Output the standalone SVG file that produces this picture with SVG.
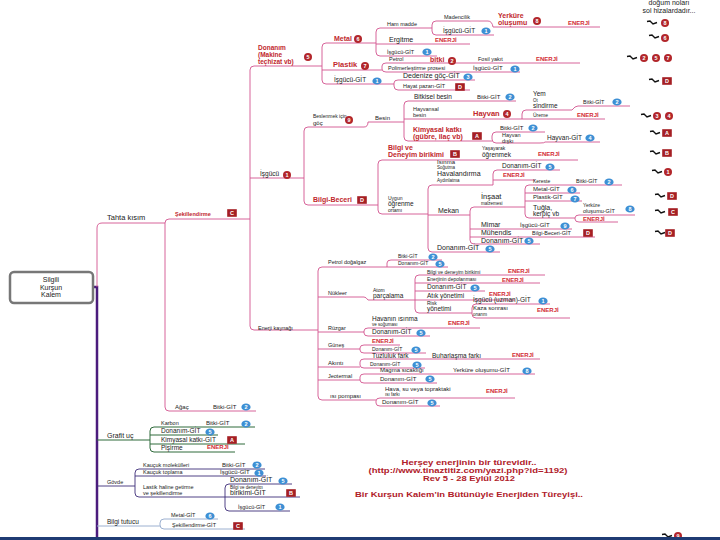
<svg xmlns="http://www.w3.org/2000/svg" width="720" height="540" viewBox="0 0 720 540">
<style>
text{font-family:"Liberation Sans",Arial,sans-serif;fill:#222}
.f45{font-size:4.5px}.f5{font-size:5px}.f55{font-size:5.5px}.f6{font-size:6px}.f65{font-size:6.5px}.f7{font-size:7px}.f75{font-size:7.5px}.f8{font-size:8px}
.r{fill:#c1272d;font-weight:bold}
.e{fill:#d22b34;font-weight:bold;font-size:6px}
.bt{fill:#fff;font-size:5.5px;font-weight:bold;text-anchor:middle}
.pk{fill:none;stroke:#d2548e;stroke-width:0.9}
.gn{fill:none;stroke:#2e6a3a;stroke-width:1}
.nv{fill:none;stroke:#3d2d78;stroke-width:0.9}
.lb{fill:none;stroke:#9cb0d0;stroke-width:1}
.ft{fill:#b0202a;font-weight:bold;font-size:7.3px;text-anchor:middle}
</style>
<defs>
<ellipse id="bb" rx="4.6" ry="3.6" fill="#3d8fd4"/>
<circle id="rb" r="4" fill="#b2262b"/>
<rect id="rs" x="-4.8" y="-3.8" width="9.6" height="7.6" fill="#a51f24"/>
<path id="sq" d="M-5 -1.5 L-2 -2 L1 1 L5 -0.5" fill="none" stroke="#111" stroke-width="1.4"/>
</defs>
<rect width="720" height="540" fill="#fff"/>
<g id="connectors">
<path d="M93 287 H97 V540" fill="none" stroke="#4b1c7d" stroke-width="2.5"/>
<path class="pk" stroke-width="1.5" d="M97 287 V228 Q97 223 102 223 H165"/>
<path class="pk" stroke-width="1.3" d="M169 219 Q165 219 165 223 V407 Q165 411 169 411 H256 M169 219 H250"/>
<path class="pk" stroke-width="1.2" d="M254 66 Q250 66 250 70 V326 Q250 330 254 330 H318 M254 66 H322 M250 178 H304"/>
<path class="pk" d="M326 43 Q322 43 322 47 V80 Q322 84 326 84 H394 M326 43 H376 M322 70 H382"/>
<path class="pk" d="M380 28 Q376 28 376 32 V52 Q376 56 380 56 H437 M380 28 H432 M376 44 H470"/>
<path class="pk" d="M436 21 Q432 21 432 25 V31 Q432 35 436 35 H494 M436 21 H488 Q492 21 493 27 H600"/>
<path class="pk" d="M386 63 Q382 63 382 66 V69 Q382 72 386 72 H520 M386 63 H580"/>
<path class="pk" d="M398 80 Q394 80 394 83 V86 Q394 90 398 90 H470 M398 80 H475"/>
<path class="pk" d="M308 127 Q304 127 304 131 V201 Q304 205 308 205 H378 M308 127 H364 Q368 127 368 122 H404"/>
<path class="pk" d="M408 101 Q404 101 404 105 V137 Q404 141 408 141 H492 M408 101 H516 M404 119 H605"/>
<path class="pk" d="M572 110 H526 Q522 110 522 114 V119 M572 110 Q575 106 578 106 H630"/>
<path class="pk" d="M496 132 Q492 132 492 136 V139 Q492 143 496 143 H540 Q545 143 545 142 H600 M496 132 H545"/>
<path class="pk" d="M382 160 Q378 160 378 164 V210 Q378 214 382 214 H428 M382 160 H578"/>
<path class="pk" d="M432 185 Q428 185 428 189 V248 Q428 252 432 252 H500 M432 185 H493 M428 215 H470"/>
<path class="pk" d="M497 170 Q493 170 493 174 V185 M497 170 H560 M493 180 H535"/>
<path class="pk" d="M474 207 Q470 207 470 211 V240 Q470 244 474 244 H540 M474 207 H525 M470 229 H572 M470 237 H595"/>
<path class="pk" d="M529 185 Q525 185 525 189 V214 Q525 218 529 218 H575 M529 185 H622 M525 193 H580 M525 201 H582"/>
<path class="pk" d="M579 215 Q575 215 575 218 V219 Q575 222 579 222 H618 M579 215 H635"/>
<path class="pk" stroke-width="1.2" d="M322 267 Q318 267 318 271 V396 Q318 400 322 400 H376 M322 267 H387 M318 297 H364 Q366 297 368 300 H415 M318 332 H364 M318 349 H360 M318 367 H360 M318 380 H360"/>
<path class="pk" d="M391 260 Q387 260 387 263 V267 H448 M391 260 H442"/>
<path class="pk" d="M419 275 Q415 275 415 279 V309 Q415 313 419 313 H472 M419 275 H545 M415 283 H540 M415 291 H485 M415 300 H515"/>
<path class="pk" d="M476 304 Q472 304 472 308 V314 Q472 318 476 318 H570 M476 304 H550"/>
<path class="pk" d="M368 328 Q364 328 364 331 V333 Q364 336 368 336 H430 M368 328 H480"/>
<path class="pk" d="M364 345 Q360 345 360 348 V350 Q360 353 364 353 H426 M364 345 H400"/>
<path class="pk" d="M364 359 Q360 359 360 362 V365 Q360 368 364 368 H425 M364 359 H540"/>
<path class="pk" d="M364 374 Q360 374 360 377 V380 Q360 383 364 383 H437 M364 374 H535"/>
<path class="pk" d="M380 398 Q376 398 376 401 V403 Q376 406 380 406 H440 M380 398 H515"/>
<path class="gn" stroke-width="2" d="M97 440 H150"/>
<path class="gn" stroke-width="1.5" d="M154 427 Q150 427 150 431 V448 Q150 452 154 452 H235 M154 427 H255 M150 435 H218 M150 444 H245"/>
<path class="nv" stroke-width="1.5" d="M97 486 H135"/>
<path class="nv" d="M139 469 Q135 469 135 473 V493 Q135 497 139 497 H225 M139 469 H265 M135 476 H266"/>
<path class="nv" d="M229 484 Q225 484 225 488 V507 Q225 511 229 511 H290 M229 484 H292 M225 497 H300"/>
<path class="lb" stroke-width="1.5" d="M97 526 H160"/>
<path class="lb" d="M164 519 Q160 519 160 523 V525 Q160 529 164 529 H245 M164 519 H218"/>
</g>
<g id="root"><rect x="10" y="272" width="83" height="31" rx="4" fill="#fff" stroke="#777" stroke-width="2.5"/>
<text class="f7" x="51" y="282" text-anchor="middle">Silgili</text><text class="f7" x="51" y="289.5" text-anchor="middle">Kurşun</text><text class="f7" x="51" y="297" text-anchor="middle">Kalem</text></g>
<g id="n-tahta"><text class="f75" x="107" y="220">Tahta kısım</text></g>
<g id="n-sekil"><text class="f55 r" x="175" y="216">Şekillendirme</text><use href="#rs" x="232" y="213"/><text class="bt" x="232" y="215">C</text></g>
<g id="n-agac"><text class="f6" x="175" y="409">Ağaç</text><text class="f6" x="213" y="409">Bitki-GİT</text><use href="#bb" x="246" y="407"/><text class="bt" x="246" y="409">2</text></g>
<g id="n-donanim"><text class="f65 r" x="258" y="50">Donanım</text><text class="f65 r" x="258" y="57">(Makine</text><text class="f65 r" x="258" y="64">teçhizat vb)</text><use href="#rb" x="308" y="57"/><text class="bt" x="308" y="59">5</text></g>
<g id="n-metal"><text class="f7 r" x="334" y="41">Metal</text><use href="#rb" x="358" y="39"/><text class="bt" x="358" y="41">6</text></g>
<g id="n-hammadde"><text class="f55" x="387" y="26">Ham madde</text></g>
<g id="n-madencilik"><text class="f55" x="444" y="19">Madencilik</text></g>
<g id="n-isgucu-m1"><text class="f65" x="443" y="33">İşgücü-GİT</text><use href="#bb" x="486" y="31"/><text class="bt" x="486" y="33">1</text></g>
<g id="n-yerkure"><text class="f7 r" x="498" y="18">Yerküre</text><text class="f7 r" x="498" y="25">oluşumu</text><use href="#rb" x="537" y="21"/><text class="bt" x="537" y="23">8</text><text class="e" x="568" y="25">ENERJİ</text></g>
<g id="n-ergitme"><text class="f7" x="389" y="42">Ergitme</text><text class="e" x="435" y="42">ENERJİ</text></g>
<g id="n-isgucu-m2"><text class="f55" x="387" y="54">İşgücü-GİT</text><use href="#bb" x="427" y="52"/><text class="bt" x="427" y="54">1</text></g>
<g id="n-plastik"><text class="f75 r" x="333" y="67">Plastik</text><use href="#rb" x="365" y="66"/><text class="bt" x="365" y="68">7</text></g>
<g id="n-petrol"><text class="f55" x="389" y="61">Petrol</text><text class="f7 r" x="430" y="62">bitki</text><use href="#rb" x="452" y="61"/><text class="bt" x="452" y="63">2</text><text class="f55" x="478" y="61">Fosil yakıt</text><text class="e" x="536" y="61">ENERJİ</text></g>
<g id="n-polimer"><text class="f55" x="388" y="70">Polimerleştirme prosesi</text><text class="f6" x="473" y="70">İşgücü-GİT</text><use href="#bb" x="515" y="69"/><text class="bt" x="515" y="71">1</text></g>
<g id="n-isgucu-d"><text class="f65" x="334" y="82">İşgücü-GİT</text><use href="#bb" x="377" y="81"/><text class="bt" x="377" y="83">1</text></g>
<g id="n-dedenize"><text class="f7" x="403" y="78">Dedenize göç-GİT</text><use href="#bb" x="468" y="77"/><text class="bt" x="468" y="79">3</text></g>
<g id="n-hayat"><text class="f55" x="403" y="88">Hayat pazarı-GİT</text><use href="#rs" x="460" y="87"/><text class="bt" x="460" y="89">D</text></g>
<g id="n-isgucu"><text class="f65" x="260" y="176">İşgücü</text><use href="#rb" x="287" y="175"/><text class="bt" x="287" y="177">1</text></g>
<g id="n-beslenme"><text class="f5" x="313" y="118">Beslenmek için</text><text class="f6" x="313" y="125">göç</text><use href="#rb" x="349" y="120"/><text class="bt" x="349" y="122">9</text></g>
<g id="n-besin"><text class="f6" x="375" y="120">Besin</text></g>
<g id="n-bitkisel"><text class="f65" x="414" y="99">Bitkisel besin</text><text class="f6" x="477" y="99">Bitki-GİT</text><use href="#bb" x="510" y="97"/><text class="bt" x="510" y="99">2</text></g>
<g id="n-hayvansal"><text class="f55" x="413" y="111">Hayvansal</text><text class="f55" x="413" y="117">besin</text><text class="f75 r" x="473" y="116">Hayvan</text><use href="#rb" x="507" y="114"/><text class="bt" x="507" y="116">4</text></g>
<g id="n-yem"><text class="f65" x="533" y="96">Yem</text><text class="f45" x="533" y="102">Ot</text><text class="f65" x="533" y="108">sindirme</text><text class="f55" x="583" y="104">Bitki-GİT</text><use href="#bb" x="617" y="102"/><text class="bt" x="617" y="104">2</text></g>
<g id="n-ureme"><text class="f5" x="533" y="117">Üreme</text><text class="e" x="577" y="117">ENERJİ</text></g>
<g id="n-kimyasal"><text class="f7 r" x="413" y="132">Kimyasal katkı</text><text class="f7 r" x="413" y="139">(gübre, ilaç vb)</text><use href="#rs" x="477" y="136"/><text class="bt" x="477" y="138">A</text></g>
<g id="n-bitki-k"><text class="f6" x="500" y="129.5">Bitki-GİT</text><use href="#bb" x="533" y="128"/><text class="bt" x="533" y="130">2</text></g>
<g id="n-diski"><text class="f55" x="502" y="137">Hayvan</text><text class="f55" x="502" y="142.5">dışkı</text><text class="f65" x="547" y="140">Hayvan-GİT</text><use href="#bb" x="590" y="138"/><text class="bt" x="590" y="140">4</text></g>
<g id="n-bilgibeceri"><text class="f7 r" x="313" y="202">Bilgi-Beceri</text><use href="#rs" x="362" y="200"/><text class="bt" x="362" y="202">D</text></g>
<g id="n-bilgideneyim"><text class="f7 r" x="388" y="150">Bilgi ve</text><text class="f7 r" x="388" y="157">Deneyim birikimi</text><use href="#rs" x="455" y="154"/><text class="bt" x="455" y="156">B</text></g>
<g id="n-yasayarak"><text class="f5" x="482" y="150">Yaşayarak</text><text class="f65" x="482" y="157">öğrenmek</text><text class="f7 e" x="538" y="156">ENERJİ</text></g>
<g id="n-uygun"><text class="f5" x="388" y="200">Uygun</text><text class="f65" x="388" y="206">öğrenme</text><text class="f5" x="388" y="212">ortamı</text></g>
<g id="n-isinma"><text class="f6" x="437" y="164">Isınma</text><text class="f45" x="437" y="169">Soğutma</text><text class="f7" x="437" y="176">Havalandırma</text><text class="f45" x="437" y="182">Aydınlatma</text></g>
<g id="n-donanim-i"><text class="f65" x="502" y="168">Donanım-GİT</text><use href="#bb" x="550" y="167"/><text class="bt" x="550" y="169">5</text></g>
<g id="n-enerji-i"><text class="f7 e" x="503" y="177">ENERJİ</text></g>
<g id="n-mekan"><text class="f7" x="438" y="213">Mekan</text></g>
<g id="n-insaat"><text class="f75" x="481" y="199">İnşaat</text><text class="f45" x="481" y="205">malzemesi</text></g>
<g id="n-kereste"><text class="f5" x="533" y="183">Kereste</text><text class="f55" x="576" y="183">Bitki-GİT</text><use href="#bb" x="609" y="182"/><text class="bt" x="609" y="184">2</text></g>
<g id="n-metalgit"><text class="f6" x="533" y="191">Metal-GİT</text><use href="#bb" x="572" y="190"/><text class="bt" x="572" y="192">6</text></g>
<g id="n-plastikgit"><text class="f6" x="533" y="199">Plastik-GİT</text><use href="#bb" x="575" y="199"/><text class="bt" x="575" y="201">7</text></g>
<g id="n-tugla"><text class="f7" x="533" y="210">Tuğla,</text><text class="f65" x="533" y="216">kerpiç vb</text></g>
<g id="n-yerkure2"><text class="f5" x="583" y="207">Yerküre</text><text class="f55" x="583" y="213">oluşumu-GİT</text><use href="#bb" x="630" y="209"/><text class="bt" x="630" y="211">8</text></g>
<g id="n-enerji-t"><text class="f7 e" x="583" y="220.5">ENERJİ</text></g>
<g id="n-mimar"><text class="f7" x="481" y="227">Mimar</text><text class="f6" x="520" y="227">İşgücü-GİT</text><use href="#bb" x="565" y="226"/><text class="bt" x="565" y="228">9</text></g>
<g id="n-muhendis"><text class="f7" x="481" y="235">Mühendis</text><text class="f55" x="532" y="235">Bilgi-Beceri-GİT</text><use href="#rs" x="588" y="233"/><text class="bt" x="588" y="235">D</text></g>
<g id="n-donanim-m"><text class="f7" x="481" y="242.5">Donanım-GİT</text><use href="#bb" x="529" y="241"/><text class="bt" x="529" y="243">5</text></g>
<g id="n-donanim-u"><text class="f7" x="437" y="250">Donanım-GİT</text><use href="#bb" x="490" y="249"/><text class="bt" x="490" y="251">5</text></g>
<g id="n-enerjikaynak"><text class="f55" x="258" y="330">Enerji kaynağı</text></g>
<g id="n-petroldogal"><text class="f55" x="328" y="264">Petrol doğalgaz</text></g>
<g id="n-bitki-p"><text class="f5" x="398" y="258">Bitki-GİT</text><use href="#bb" x="433" y="257"/><text class="bt" x="433" y="259">2</text></g>
<g id="n-donanim-p"><text class="f5" x="398" y="265">Donanım-GİT</text><use href="#bb" x="440" y="264"/><text class="bt" x="440" y="266">5</text></g>
<g id="n-nukleer"><text class="f55" x="328" y="295">Nükleer</text></g>
<g id="n-atom"><text class="f5" x="373" y="292">Atom</text><text class="f65" x="373" y="298">parçalama</text></g>
<g id="n-bilgi-n"><text class="f5" x="427" y="273.5">Bilgi ve deneyim birikimi</text><text class="e" x="508" y="273">ENERJİ</text></g>
<g id="n-depolama"><text class="f5" x="427" y="281">Enerjinin depolanması</text><text class="f75 e" x="502" y="281.5">ENERJİ</text></g>
<g id="n-donanim-n"><text class="f65" x="427" y="289">Donanım-GİT</text><use href="#bb" x="475" y="288"/><text class="bt" x="475" y="290">5</text></g>
<g id="n-atik"><text class="f65" x="427" y="298">Atık yönetimi</text><text class="e" x="489" y="296">ENERJİ</text></g>
<g id="n-risk"><text class="f5" x="427" y="305">Risk</text><text class="f65" x="427" y="311">yönetimi</text></g>
<g id="n-uzman"><text class="f65" x="473" y="302">İşgücü (uzman)-GİT</text><use href="#bb" x="543" y="301"/><text class="bt" x="543" y="303">1</text></g>
<g id="n-kaza"><text class="f6" x="473" y="310">Kaza sonrası</text><text class="f45" x="473" y="316">onarım</text><text class="e" x="537" y="312">ENERJİ</text></g>
<g id="n-ruzgar"><text class="f55" x="328" y="330">Rüzgar</text></g>
<g id="n-havanin"><text class="f65" x="372" y="321">Havanın ısınma</text><text class="f45" x="372" y="326">ve soğuması</text><text class="e" x="448" y="325">ENERJİ</text></g>
<g id="n-donanim-r"><text class="f65" x="372" y="334">Donanım-GİT</text><use href="#bb" x="421" y="333"/><text class="bt" x="421" y="335">5</text></g>
<g id="n-gunes"><text class="f55" x="328" y="347">Güneş</text></g>
<g id="n-enerji-g"><text class="e" x="372" y="343">ENERJİ</text></g>
<g id="n-donanim-g"><text class="f5" x="372" y="351">Donanım-GİT</text><use href="#bb" x="416" y="350"/><text class="bt" x="416" y="352">5</text></g>
<g id="n-akinti"><text class="f6" x="328" y="365">Akıntı</text></g>
<g id="n-tuzluluk"><text class="f65" x="372" y="357.5">Tuzluluk fark</text><text class="f65" x="432" y="357.5">Buharlaşma farkı</text><text class="e" x="512" y="357">ENERJİ</text></g>
<g id="n-donanim-a"><text class="f5" x="370" y="366">Donanım-GİT</text><use href="#bb" x="417" y="365"/><text class="bt" x="417" y="367">5</text></g>
<g id="n-jeotermal"><text class="f55" x="328" y="378">Jeotermal</text></g>
<g id="n-magma"><text class="f6" x="380" y="372">Magma sıcaklığı</text><text class="f6" x="453" y="372">Yerküre oluşumu-GİT</text><use href="#bb" x="527" y="371"/><text class="bt" x="527" y="373">8</text></g>
<g id="n-donanim-j"><text class="f6" x="380" y="381">Donanım-GİT</text><use href="#bb" x="430" y="379"/><text class="bt" x="430" y="381">5</text></g>
<g id="n-isipompasi"><text class="f6" x="330" y="398">ısı pompası</text></g>
<g id="n-hava"><text class="f6" x="385" y="391">Hava, su veya topraktaki</text><text class="f45" x="385" y="396">ısı farkı</text><text class="e" x="486" y="393">ENERJİ</text></g>
<g id="n-donanim-h"><text class="f6" x="382" y="404">Donanım-GİT</text><use href="#bb" x="432" y="403"/><text class="bt" x="432" y="405">5</text></g>
<g id="n-grafit"><text class="f7" x="107" y="438">Grafit uç</text></g>
<g id="n-karbon"><text class="f55" x="161" y="425">Karbon</text><text class="f6" x="206" y="425">Bitki-GİT</text><use href="#bb" x="246" y="424"/><text class="bt" x="246" y="426">2</text></g>
<g id="n-donanim-gr"><text class="f65" x="161" y="433">Donanım-GİT</text><use href="#bb" x="210" y="432"/><text class="bt" x="210" y="434">5</text></g>
<g id="n-kimyasal-gr"><text class="f65" x="161" y="442">Kimyasal katkı-GİT</text><use href="#rs" x="232" y="440"/><text class="bt" x="232" y="442">A</text></g>
<g id="n-pisirme"><text class="f65" x="161" y="450">Pişirme</text><text class="e" x="207" y="449">ENERJİ</text></g>
<g id="n-govde"><text class="f55" x="107" y="484">Gövde</text></g>
<g id="n-kaucuk1"><text class="f55" x="143" y="467">Kauçuk molekülleri</text><text class="f6" x="222" y="467">Bitki-GİT</text><use href="#bb" x="257" y="465"/><text class="bt" x="257" y="467">2</text></g>
<g id="n-kaucuk2"><text class="f55" x="143" y="474">Kauçuk toplama</text><text class="f6" x="220" y="474">İşgücü-GİT</text><use href="#bb" x="259" y="473"/><text class="bt" x="259" y="475">1</text></g>
<g id="n-lastik"><text class="f55" x="143" y="489">Lastik haline getirme</text><text class="f55" x="143" y="495">ve şekillendirme</text></g>
<g id="n-donanim-gv"><text class="f7" x="230" y="482">Donanım-GİT</text><use href="#bb" x="283" y="481"/><text class="bt" x="283" y="483">5</text></g>
<g id="n-bilgi-gv"><text class="f45" x="230" y="489">Bilgi ve deneyim</text><text class="f7" x="230" y="495">birikimi-GİT</text><use href="#rs" x="291" y="493"/><text class="bt" x="291" y="495">B</text></g>
<g id="n-isgucu-gv"><text class="f55" x="238" y="509">İşgücü-GİT</text><use href="#bb" x="280" y="507"/><text class="bt" x="280" y="509">1</text></g>
<g id="n-bilgitutucu"><text class="f65" x="107" y="524">Bilgi tutucu</text></g>
<g id="n-metal-bt"><text class="f55" x="171" y="517">Metal-GİT</text><use href="#bb" x="210" y="516"/><text class="bt" x="210" y="518">6</text></g>
<g id="n-sekil-bt"><text class="f55" x="172" y="527">Şekillendirme-GİT</text><use href="#rs" x="238" y="526"/><text class="bt" x="238" y="528">C</text></g>
<g id="legend">
<text class="f7" x="669" y="5" text-anchor="middle">doğum noları</text>
<text class="f7" x="669" y="13" text-anchor="middle">sol hizalardadır...</text>
<use href="#sq" x="652" y="23"/><use href="#rb" x="665" y="23"/><text class="bt" x="665" y="25">8</text>
<use href="#sq" x="654" y="37"/><use href="#rb" x="665" y="38"/><text class="bt" x="665" y="40">6</text>
<use href="#sq" x="632" y="58"/><use href="#rb" x="644" y="58"/><text class="bt" x="644" y="60">2</text><use href="#rb" x="656" y="58"/><text class="bt" x="656" y="60">5</text><use href="#rb" x="668" y="58"/><text class="bt" x="668" y="60">7</text>
<use href="#sq" x="654" y="81"/><use href="#rs" x="667" y="81"/><text class="bt" x="667" y="83">D</text>
<use href="#sq" x="646" y="116"/><use href="#rb" x="657" y="116"/><text class="bt" x="657" y="118">3</text><use href="#rb" x="669" y="116"/><text class="bt" x="669" y="118">4</text>
<use href="#sq" x="655" y="133"/><use href="#rs" x="667" y="133"/><text class="bt" x="667" y="135">A</text>
<use href="#sq" x="655" y="153"/><use href="#rs" x="667" y="153"/><text class="bt" x="667" y="155">B</text>
<use href="#sq" x="657" y="172"/><use href="#rb" x="668" y="172"/><text class="bt" x="668" y="174">1</text>
<use href="#sq" x="660" y="196"/><use href="#rs" x="672" y="196"/><text class="bt" x="672" y="198">D</text>
<use href="#sq" x="660" y="212"/><use href="#rs" x="673" y="212"/><text class="bt" x="673" y="214">C</text>
<use href="#sq" x="660" y="233"/><use href="#rs" x="670" y="233"/><text class="bt" x="670" y="235">D</text>
<use href="#sq" x="667" y="536"/><use href="#rb" x="678" y="536"/><text class="bt" x="678" y="538">9</text>
</g>
<g id="footer">
<text class="ft" x="469" y="465" textLength="135" lengthAdjust="spacingAndGlyphs">Herşey enerjinin bir türevidir..</text>
<text class="ft" x="468" y="473" textLength="199" lengthAdjust="spacingAndGlyphs">(http://www.tinaztitiz.com/yazi.php?id=1192)</text>
<text class="ft" x="469" y="481" textLength="92" lengthAdjust="spacingAndGlyphs">Rev 5 - 28 Eylül 2012</text>
<text class="ft" x="469" y="497" textLength="228" lengthAdjust="spacingAndGlyphs">Bir Kurşun Kalem'in Bütünüyle Enerjiden Türeyişi..</text>
</g>
<rect x="0" y="537" width="720" height="3" fill="#1f3b73"/>
</svg>
